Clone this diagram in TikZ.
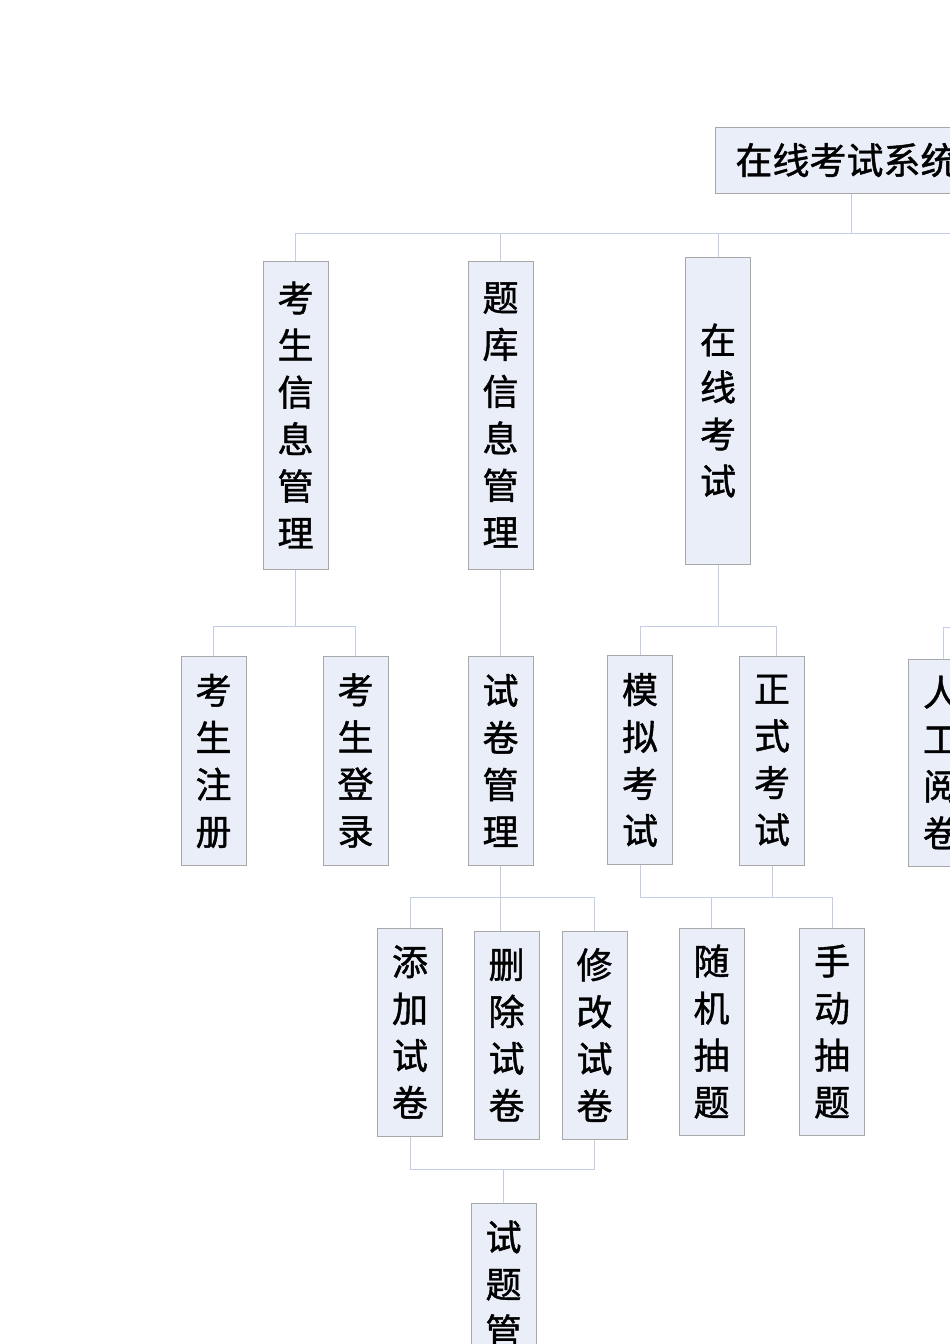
\documentclass[tikz,border=0pt]{standalone}
\usepackage{fontspec}
\newfontfamily\cjk[FakeBold=1.2]{Noto Sans CJK SC}
\definecolor{boxfill}{HTML}{E9EEF8}
\definecolor{boxline}{HTML}{A8A8A8}
\definecolor{linkcol}{HTML}{C2CEE6}
\begin{document}
\begin{tikzpicture}[x=1pt,y=-1pt,
    main/.style = {draw=boxline, fill=boxfill, line width=1pt, inner sep=0pt, align=center, minimum width=65pt, font=\cjk\fontsize{36}{47}\selectfont},
    link/.style = {draw=linkcol, line width=0.8pt}]
        \useasboundingbox (0,0) rectangle (950,1344);
        \clip (0,0) rectangle (950,1344);
        \node[main, anchor=west, inner xsep=20pt, text width=232pt, align=left, minimum height=66pt, font=\cjk\fontsize{37}{37}\selectfont] (ExamSystem) at (715,160) {在线考试系统};
        \node[main, minimum height=308pt] (StudentInfo) at (295.5,415) {考\\生\\信\\息\\管\\理};
        \node[main, minimum height=308pt] (BankInfo) at (500.5,415) {题\\库\\信\\息\\管\\理};
        \node[main, minimum height=307pt] (OnlineExam) at (718,410.5) {在\\线\\考\\试};
        \node[main, minimum height=209pt] (Register) at (213.5,761) {考\\生\\注\\册};
        \node[main, minimum height=209pt] (Login) at (355.5,760.5) {考\\生\\登\\录};
        \node[main, minimum height=209pt] (PaperManage) at (500.5,760.5) {试\\卷\\管\\理};
        \node[main, minimum height=209pt] (MockExam) at (640,760) {模\\拟\\考\\试};
        \node[main, minimum height=209pt] (FormalExam) at (772,760.5) {正\\式\\考\\试};
        \node[main, minimum height=207pt] (ManualMark) at (941,762.5) {人\\工\\阅\\卷};
        \node[main, minimum height=208pt] (AddPaper) at (410,1032) {添\\加\\试\\卷};
        \node[main, minimum height=208pt] (DeletePaper) at (506.5,1035) {删\\除\\试\\卷};
        \node[main, minimum height=208pt] (EditPaper) at (594.5,1035) {修\\改\\试\\卷};
        \node[main, minimum height=207pt] (RandomPick) at (711.5,1031.5) {随\\机\\抽\\题};
        \node[main, minimum height=207pt] (ManualPick) at (832,1031.5) {手\\动\\抽\\题};
        \node[main, minimum height=208pt] (ItemManage) at (503.5,1307) {试\\题\\管\\理};
        % the buses run on past the right edge
        \coordinate (TopBusEnd) at (960,233);
        \coordinate (MarkBusEnd) at (960,627);
        \draw[link] ([xshift=136pt]ExamSystem.south west) |- (TopBusEnd);
        \draw[link] (StudentInfo.north) |- (TopBusEnd);
        \draw[link] (BankInfo.north) -- (BankInfo.north |- TopBusEnd);
        \draw[link] (OnlineExam.north) -- (OnlineExam.north |- TopBusEnd);
        \draw[link] (StudentInfo.south) -- ++(0,57) coordinate (StudentBus);
        \draw[link] (Register.north) |- (StudentBus) -| (Login.north);
        \draw[link] (BankInfo.south) -- (PaperManage.north);
        \draw[link] (OnlineExam.south) -- ++(0,62) coordinate (ExamBus);
        \draw[link] (MockExam.north) |- (ExamBus) -| ([xshift=4pt]FormalExam.north);
        \draw[link] ([xshift=2pt]ManualMark.north) |- (MarkBusEnd);
        \draw[link] (PaperManage.south) -- ++(0,32) coordinate (PaperBus);
        \draw[link] (AddPaper.north) |- (PaperBus) -| (EditPaper.north);
        \draw[link] (PaperBus) -- (PaperBus |- DeletePaper.north);
        \draw[link] (MockExam.south) -- ++(0,32) coordinate (PickBus);
        \draw[link] (RandomPick.north) |- (PickBus) -| (ManualPick.north);
        \draw[link] (FormalExam.south) -- (FormalExam.south |- PickBus);
        \draw[link] (AddPaper.south) -- ++(0,33) coordinate (ItemBus) -| (EditPaper.south);
        \draw[link] (ItemManage.north) -- (ItemManage.north |- ItemBus);
\end{tikzpicture}
\end{document}
